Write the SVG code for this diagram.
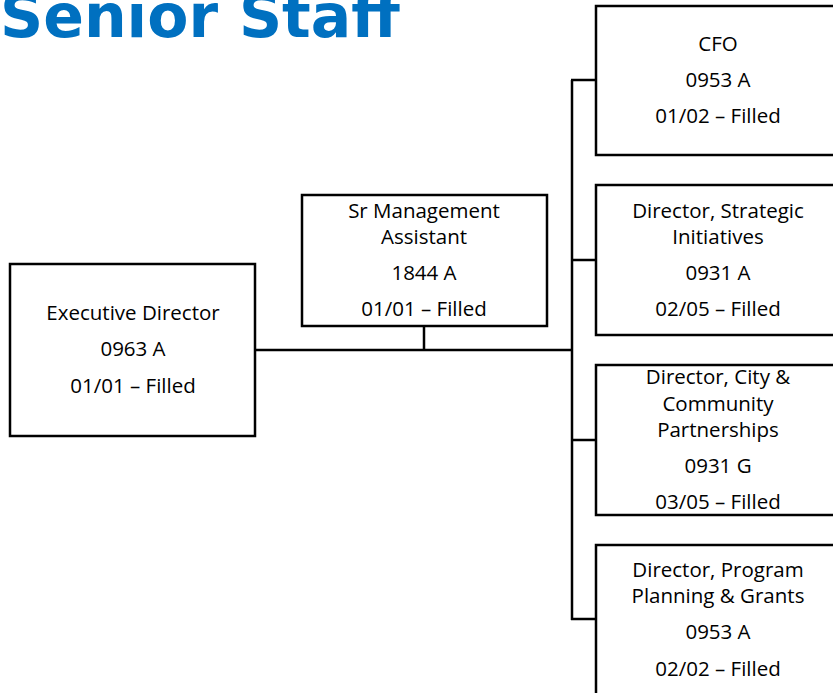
<svg xmlns="http://www.w3.org/2000/svg" width="833" height="693" viewBox="0 0 833 693">
<style>
.box{fill:#fff;stroke:#000;stroke-width:2.5}
.t{font-family:"Open Sans","Noto Sans",sans-serif;font-size:20.5px;fill:#000;text-anchor:middle}
.ln{stroke:#000;stroke-width:2.5;fill:none}
.title{font-family:"DejaVu Sans",sans-serif;font-weight:bold;font-size:60px;fill:#0070C0}
</style>
<rect width="833" height="693" fill="#fff"/>
<text class="title" x="0" y="37">Senior Staff</text>
<g id="connectors">
<path class="ln" d="M256 350H572"/>
<path class="ln" d="M424 326V350"/>
<path class="ln" d="M572 80V620"/>
<path class="ln" d="M571 80H596M571 260H596M571 440H596M571 619H596"/>
</g>
<g id="exec">
<rect class="box" x="10" y="264" width="245" height="172"/>
<text class="t" x="133" y="320">Executive Director</text>
<text class="t" x="133" y="356">0963 A</text>
<text class="t" x="133" y="393">01/01 – Filled</text>
</g>
<g id="srmgmt">
<rect class="box" x="302" y="195" width="245" height="131"/>
<text class="t" x="424" y="218">Sr Management</text>
<text class="t" x="424" y="244">Assistant</text>
<text class="t" x="424" y="280">1844 A</text>
<text class="t" x="424" y="316">01/01 – Filled</text>
</g>
<g id="cfo">
<rect class="box" x="596" y="6" width="250" height="149"/>
<text class="t" x="718" y="51">CFO</text>
<text class="t" x="718" y="87">0953 A</text>
<text class="t" x="718" y="123">01/02 – Filled</text>
</g>
<g id="strategic">
<rect class="box" x="596" y="185" width="250" height="150"/>
<text class="t" x="718" y="218">Director, Strategic</text>
<text class="t" x="718" y="244">Initiatives</text>
<text class="t" x="718" y="280">0931 A</text>
<text class="t" x="718" y="316">02/05 – Filled</text>
</g>
<g id="city">
<rect class="box" x="596" y="365" width="250" height="150"/>
<text class="t" x="718" y="384">Director, City &amp;</text>
<text class="t" x="718" y="411">Community</text>
<text class="t" x="718" y="437">Partnerships</text>
<text class="t" x="718" y="473">0931 G</text>
<text class="t" x="718" y="509">03/05 – Filled</text>
</g>
<g id="program">
<rect class="box" x="596" y="545" width="250" height="160"/>
<text class="t" x="718" y="577">Director, Program</text>
<text class="t" x="718" y="603">Planning &amp; Grants</text>
<text class="t" x="718" y="639">0953 A</text>
<text class="t" x="718" y="676">02/02 – Filled</text>
</g>
</svg>
